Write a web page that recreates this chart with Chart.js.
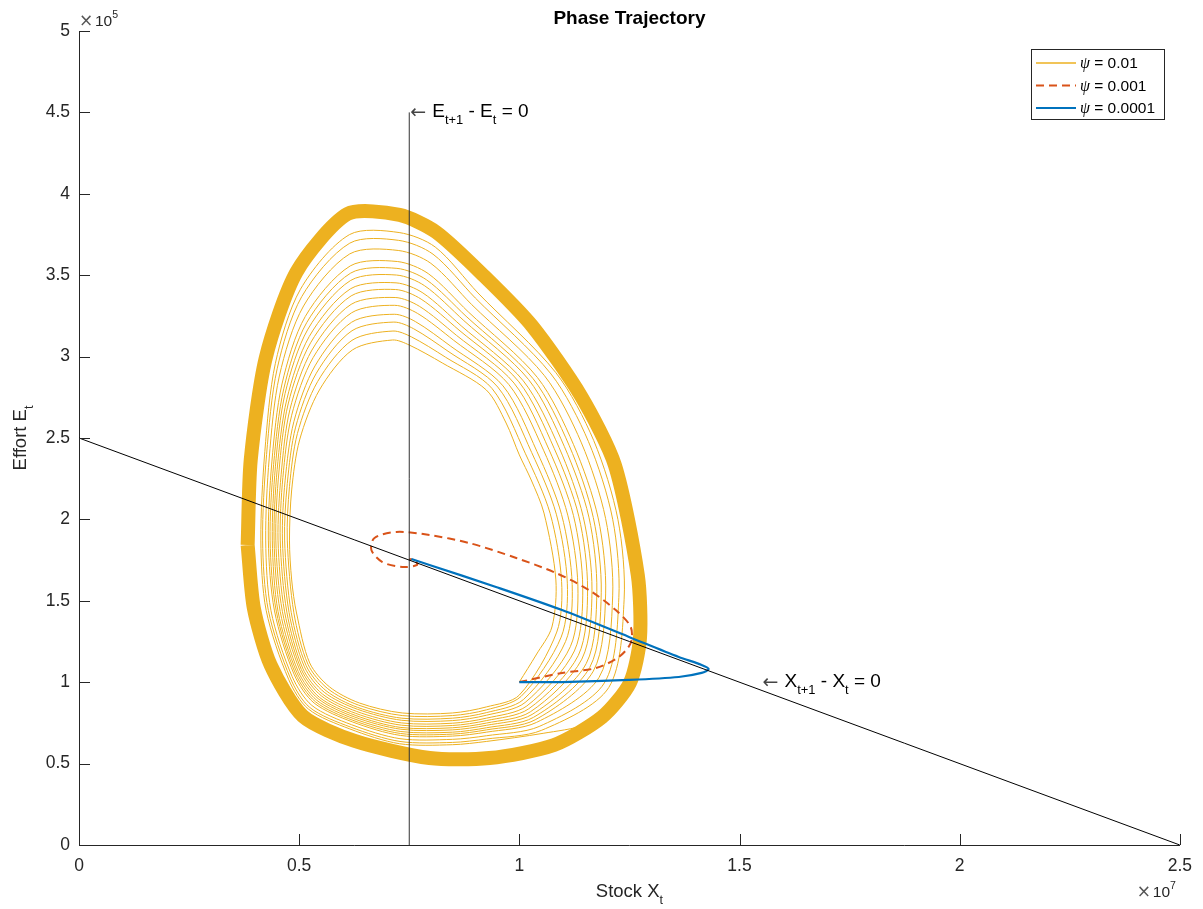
<!DOCTYPE html>
<html>
<head>
<meta charset="utf-8">
<title>Phase Trajectory</title>
<script src="https://cdn.jsdelivr.net/npm/chart.js@4.4.1/dist/chart.umd.min.js"></script>
<style>
  html, body { margin: 0; padding: 0; background: #fff; }
  canvas { display: block; }
</style>
</head>
<body>
<canvas id="phase" width="1203" height="909"></canvas>
<script>
// units as on the axes: stock in 1e7, effort in 1e5 (exponent drawn separately like matlab)
const xTickVals = [0, 0.5, 1, 1.5, 2, 2.5];
const xTickLabels = ['0', '0.5', '1', '1.5', '2', '2.5'];
const yTickVals = [0, 0.5, 1, 1.5, 2, 2.5, 3, 3.5, 4, 4.5, 5];
const yTickLabels = ['0', '0.5', '1', '1.5', '2', '2.5', '3', '3.5', '4', '4.5', '5'];
const psiValues = ['0.01', '0.001', '0.0001'];

// psi = 0.01 : spiral read loop by loop off the picture (inner loop first)
const spiralLoop1 = [[1.000,1.001],[1.038,1.167],[1.074,1.339],[1.083,1.628],[1.056,2.039],[1.027,2.242],[1.000,2.396],[0.970,2.592],[0.925,2.795],[0.825,2.961],[0.750,3.071],[0.712,3.102],[0.621,3.041],[0.546,2.795],[0.501,2.488],[0.483,2.181],[0.478,1.873],[0.483,1.628],[0.494,1.425],[0.524,1.118],[0.569,0.971],[0.637,0.872],[0.734,0.811],[0.848,0.811],[0.925,0.848],[1.000,0.921]];
const spiralLoop2 = [[1.085,1.308],[1.096,1.618],[1.070,2.036],[1.014,2.403],[0.938,2.804],[0.832,2.997],[0.755,3.121],[0.713,3.157],[0.620,3.100],[0.542,2.847],[0.496,2.527],[0.478,2.201],[0.473,1.873],[0.488,1.426],[0.520,1.110],[0.565,0.960],[0.635,0.859],[0.734,0.795],[0.848,0.795],[0.925,0.830],[1.004,0.913]];
const spiralLoop3 = [[1.095,1.277],[1.109,1.608],[1.084,2.032],[1.028,2.411],[0.951,2.813],[0.838,3.033],[0.760,3.171],[0.715,3.212],[0.620,3.159],[0.539,2.898],[0.492,2.567],[0.473,2.220],[0.467,1.873],[0.482,1.428],[0.516,1.101],[0.561,0.948],[0.633,0.845],[0.733,0.779],[0.848,0.779],[0.925,0.813],[1.009,0.893]];
const spiralLoop4 = [[1.105,1.250],[1.120,1.600],[1.096,2.029],[1.040,2.417],[0.963,2.820],[0.844,3.064],[0.764,3.215],[0.716,3.260],[0.619,3.211],[0.536,2.943],[0.488,2.601],[0.468,2.237],[0.462,1.873],[0.477,1.429],[0.512,1.094],[0.557,0.938],[0.632,0.834],[0.733,0.766],[0.848,0.764],[0.925,0.797],[1.013,0.875]];
const spiralLoop5 = [[1.116,1.219],[1.133,1.590],[1.110,2.026],[1.055,2.425],[0.976,2.829],[0.851,3.100],[0.769,3.265],[0.717,3.315],[0.619,3.269],[0.532,2.995],[0.483,2.640],[0.463,2.257],[0.457,1.873],[0.472,1.431],[0.508,1.086],[0.553,0.927],[0.630,0.821],[0.732,0.750],[0.848,0.748],[0.925,0.779],[1.017,0.854]];
const spiralLoop6 = [[1.125,1.192],[1.144,1.581],[1.123,2.023],[1.067,2.431],[0.988,2.837],[0.857,3.131],[0.773,3.309],[0.718,3.363],[0.618,3.321],[0.529,3.040],[0.479,2.675],[0.459,2.274],[0.452,1.873],[0.467,1.432],[0.505,1.078],[0.550,0.917],[0.628,0.809],[0.732,0.736],[0.848,0.734],[0.925,0.764],[1.021,0.836]];
const spiralLoop7 = [[1.134,1.165],[1.155,1.573],[1.135,2.020],[1.079,2.437],[0.999,2.845],[0.863,3.163],[0.777,3.353],[0.719,3.412],[0.618,3.373],[0.526,3.085],[0.475,2.709],[0.454,2.291],[0.447,1.873],[0.462,1.433],[0.502,1.071],[0.546,0.907],[0.627,0.797],[0.731,0.722],[0.848,0.720],[0.925,0.749],[1.025,0.818]];
const spiralLoop8 = [[1.142,1.142],[1.165,1.565],[1.145,2.017],[1.090,2.443],[1.009,2.851],[0.868,3.189],[0.781,3.391],[0.720,3.453],[0.617,3.417],[0.523,3.124],[0.472,2.738],[0.450,2.306],[0.443,1.873],[0.457,1.434],[0.498,1.065],[0.543,0.899],[0.625,0.787],[0.731,0.711],[0.848,0.707],[0.925,0.735],[1.029,0.802]];
const spiralLoop9 = [[1.152,1.115],[1.176,1.557],[1.158,2.014],[1.102,2.449],[1.021,2.859],[0.874,3.221],[0.785,3.435],[0.721,3.501],[0.617,3.468],[0.520,3.169],[0.468,2.773],[0.446,2.323],[0.439,1.873],[0.452,1.435],[0.495,1.058],[0.540,0.889],[0.624,0.776],[0.731,0.697],[0.848,0.693],[0.925,0.720],[1.032,0.784]];
const spiralLoop10 = [[1.160,1.091],[1.186,1.549],[1.168,2.011],[1.113,2.455],[1.031,2.865],[0.879,3.248],[0.789,3.472],[0.722,3.542],[0.617,3.513],[0.517,3.208],[0.465,2.802],[0.442,2.338],[0.434,1.873],[0.448,1.437],[0.492,1.051],[0.537,0.880],[0.622,0.766],[0.730,0.685],[0.848,0.681],[0.925,0.707],[1.036,0.769]];
const spiralLoop11 = [[1.168,1.068],[1.196,1.542],[1.179,2.009],[1.123,2.460],[1.041,2.872],[0.884,3.275],[0.793,3.510],[0.723,3.584],[0.616,3.557],[0.514,3.247],[0.461,2.832],[0.438,2.353],[0.430,1.873],[0.444,1.438],[0.489,1.045],[0.534,0.872],[0.621,0.756],[0.730,0.673],[0.848,0.669],[0.925,0.693],[1.039,0.753]];
const spiralLoop12 = [[1.181,1.029],[1.212,1.530],[1.196,2.005],[1.141,2.470],[1.057,2.883],[0.892,3.319],[0.799,3.573],[0.725,3.652],[0.615,3.631],[0.510,3.311],[0.455,2.881],[0.432,2.377],[0.424,1.873],[0.436,1.439],[0.484,1.035],[0.529,0.857],[0.619,0.739],[0.729,0.653],[0.848,0.649],[0.925,0.671],[1.045,0.728]];
const spiralLoop13 = [[1.193,0.995],[1.226,1.519],[1.212,2.001],[1.157,2.478],[1.072,2.893],[0.900,3.360],[0.804,3.629],[0.726,3.714],[0.615,3.697],[0.506,3.369],[0.450,2.925],[0.426,2.399],[0.417,1.873],[0.430,1.441],[0.480,1.025],[0.524,0.845],[0.617,0.724],[0.729,0.636],[0.848,0.630],[0.925,0.651],[1.050,0.704]];
const spiralLoop14 = [[1.203,0.967],[1.238,1.510],[1.224,1.998],[1.169,2.484],[1.083,2.901],[0.906,3.391],[0.809,3.673],[0.727,3.762],[0.614,3.749],[0.503,3.414],[0.446,2.959],[0.422,2.416],[0.413,1.873],[0.425,1.442],[0.476,1.018],[0.521,0.835],[0.615,0.713],[0.728,0.622],[0.848,0.616],[0.925,0.636],[1.054,0.686],[1.150,0.740],[1.215,0.860]];
// the dense outer band (many loops on top of each other)
const limitCycle = [[0.383,1.843],[0.390,2.365],[0.424,2.991],[0.494,3.520],[0.610,3.876],[0.728,3.870],[0.811,3.765],[0.920,3.495],[1.029,3.188],[1.140,2.758],[1.217,2.334],[1.269,1.658],[1.274,1.271],[1.251,0.995],[1.188,0.786],[1.079,0.614],[0.932,0.534],[0.796,0.534],[0.626,0.639],[0.508,0.792],[0.435,1.106],[0.397,1.456],[0.383,1.843]];

// psi = 0.001 (dashed) and psi = 0.0001
const psi001 = [[1.000,1.001],[1.097,1.057],[1.174,1.087],[1.226,1.155],[1.253,1.241],[1.253,1.339],[1.219,1.443],[1.158,1.566],[1.083,1.671],[0.993,1.763],[0.886,1.855],[0.796,1.904],[0.721,1.923],[0.671,1.886],[0.664,1.812],[0.689,1.738],[0.734,1.708],[0.768,1.720],[0.762,1.751],[0.750,1.757]];
const psi0001 = [[1.000,1.001],[1.097,1.001],[1.249,1.014],[1.362,1.032],[1.414,1.057],[1.430,1.081],[1.414,1.106],[1.362,1.155],[1.249,1.278],[1.097,1.443],[0.947,1.585],[0.796,1.720],[0.755,1.757]];

// nullclines
const xNullcline = [[0, 2.5], [2.5, 0]];
const eNullcline = [[0.75, 0], [0.75, 4.5]];

const SANS = "'Liberation Sans', Arial, Helvetica, sans-serif";
const INK = '#262626';
const YELLOW = '#EDB120', ORANGE = '#D95319', BLUE = '#0072BD';

const pts = arr => arr.map(([x, y]) => ({ x, y }));
const spiral = [].concat(spiralLoop1, spiralLoop2, spiralLoop3, spiralLoop4, spiralLoop5,
                         spiralLoop6, spiralLoop7, spiralLoop8, spiralLoop9, spiralLoop10,
                         spiralLoop11, spiralLoop12, spiralLoop13, spiralLoop14);

// text with TeX-like sub/superscripts, returns the width
function rich(ctx, x, y, parts, size, dry) {
    let cx = x;
    parts.forEach(([txt, kind]) => {
        let fs = size, dy = 0;
        if (kind === 'sub') { fs = size * 0.68; dy = size * 0.38; }
        if (kind === 'sup') { fs = size * 0.68; dy = -size * 0.5; }
        ctx.font = `${fs}px ${SANS}`;
        if (!dry) ctx.fillText(txt, cx, y + dy);
        cx += ctx.measureText(txt).width;
    });
    return cx - x;
}

const decorations = {
    id: 'decorations',
    afterDraw(chart) {
        const { ctx, chartArea: a, scales: { x, y } } = chart;
        ctx.save();

        // matlab style inward ticks
        ctx.strokeStyle = INK;
        ctx.lineWidth = 1;
        xTickVals.forEach(v => {
            const px = Math.round(x.getPixelForValue(v)) + 0.5;
            ctx.beginPath(); ctx.moveTo(px, a.bottom); ctx.lineTo(px, a.bottom - 11); ctx.stroke();
        });
        yTickVals.forEach(v => {
            const py = Math.round(y.getPixelForValue(v)) + 0.5;
            ctx.beginPath(); ctx.moveTo(a.left, py); ctx.lineTo(a.left + 11, py); ctx.stroke();
        });

        ctx.textBaseline = 'alphabetic';
        ctx.textAlign = 'left';

        // title
        ctx.fillStyle = '#000';
        ctx.font = `bold 19px ${SANS}`;
        ctx.textAlign = 'center';
        ctx.fillText('Phase Trajectory', (a.left + a.right) / 2, 24);
        ctx.textAlign = 'left';

        // axis labels
        ctx.fillStyle = INK;
        const xl = [['Stock X', ''], ['t', 'sub']];
        const wx = rich(ctx, 0, 0, xl, 18.5, true);
        rich(ctx, (a.left + a.right) / 2 - wx / 2, 897, xl, 18.5);

        const yl = [['Effort E', ''], ['t', 'sub']];
        const wy = rich(ctx, 0, 0, yl, 18.5, true);
        ctx.save();
        ctx.translate(26, (a.top + a.bottom) / 2);
        ctx.rotate(-Math.PI / 2);
        rich(ctx, -wy / 2, 0, yl, 18.5);
        ctx.restore();

        // exponents
        ctx.fillStyle = '#555';
        ctx.font = `17px 'DejaVu Sans', sans-serif`;
        ctx.fillText('\u00d7', a.left, 26);
        ctx.fillText('\u00d7', a.right - 43, 897);
        ctx.fillStyle = INK;
        rich(ctx, a.left + 16, 26, [['10', ''], ['5', 'sup']], 15.5);
        rich(ctx, a.right - 27, 897, [['10', ''], ['7', 'sup']], 15.5);

        // nullcline annotations
        const note = (vx, vy, sym) => {
            const px = x.getPixelForValue(vx), py = y.getPixelForValue(vy);
            ctx.fillStyle = '#444';
            ctx.font = `19px 'DejaVu Sans', sans-serif`;
            ctx.fillText('\u2190', px + 1, py + 6);
            ctx.fillStyle = '#000';
            rich(ctx, px + 23, py + 4.5,
                 [[sym, ''], ['t+1', 'sub'], [' - ' + sym, ''], ['t', 'sub'], [' = 0', '']], 19);
        };
        note(0.75, 4.5, 'E');
        note(1.55, 1.0, 'X');

        // legend box
        const lx = 1031.5, ly = 49.5, lw = 133, lh = 70;
        ctx.fillStyle = '#fff';
        ctx.fillRect(lx, ly, lw, lh);
        ctx.strokeStyle = INK;
        ctx.lineWidth = 1;
        ctx.strokeRect(lx, ly, lw, lh);
        const rows = [63, 85.5, 108];
        const styles = [
            { c: YELLOW, w: 1.5, d: [] },
            { c: ORANGE, w: 2, d: [8, 5] },
            { c: BLUE, w: 2.2, d: [] }
        ];
        rows.forEach((ry, i) => {
            const s = styles[i];
            ctx.strokeStyle = s.c; ctx.lineWidth = s.w; ctx.setLineDash(s.d);
            ctx.beginPath(); ctx.moveTo(1036, ry); ctx.lineTo(1076, ry); ctx.stroke();
            ctx.setLineDash([]);
            ctx.fillStyle = '#000';
            ctx.textBaseline = 'middle';
            ctx.font = `italic 16px 'Liberation Serif', serif`;
            ctx.fillText('\u03c8', 1080, ry + 1);
            const w = ctx.measureText('\u03c8').width;
            ctx.font = `15.5px ${SANS}`;
            ctx.fillText(' = ' + psiValues[i], 1080 + w, ry + 1);
        });

        ctx.restore();
    }
};

const lineDs = (data, color, width, extra) => Object.assign({
    data: pts(data), showLine: true, pointRadius: 0, borderColor: color,
    borderWidth: width, fill: false, tension: 0
}, extra || {});

new Chart(document.getElementById('phase'), {
    type: 'scatter',
    data: {
        datasets: [
            lineDs(spiral, YELLOW, 1, { label: '\u03c8 = 0.01', tension: 0.3, order: 5 }),
            lineDs(limitCycle, YELLOW, 14, { label: 'limit', tension: 0.25, order: 4, borderJoinStyle: 'round' }),
            lineDs(psi001, ORANGE, 2, { label: '\u03c8 = 0.001', tension: 0.3, borderDash: [8, 5], order: 3 }),
            lineDs(psi0001, BLUE, 2.2, { label: '\u03c8 = 0.0001', tension: 0.3, order: 2 }),
            lineDs(xNullcline, '#000', 1, { order: 1 }),
            lineDs(eNullcline, '#333', 1, { order: 1 })
        ]
    },
    options: {
        responsive: false,
        animation: false,
        devicePixelRatio: 1,
        events: [],
        layout: { padding: { left: 0, right: 21, top: 31, bottom: 0 } },
        plugins: { legend: { display: false }, tooltip: { enabled: false } },
        scales: {
            x: {
                type: 'linear', min: 0, max: 2.5,
                afterBuildTicks: s => { s.ticks = xTickVals.map(v => ({ value: v })); },
                afterFit: s => { s.height = 64; },
                ticks: {
                    callback: v => xTickLabels[xTickVals.indexOf(v)],
                    font: { family: SANS, size: 17.5 }, color: INK,
                    padding: 11, maxRotation: 0, autoSkip: false
                },
                grid: { display: false, drawTicks: false },
                border: { display: true, color: INK, width: 1 }
            },
            y: {
                type: 'linear', min: 0, max: 5,
                afterBuildTicks: s => { s.ticks = yTickVals.map(v => ({ value: v })); },
                afterFit: s => { s.width = 79; },
                ticks: {
                    callback: v => yTickLabels[yTickVals.indexOf(v)],
                    font: { family: SANS, size: 17.5 }, color: INK,
                    padding: 9, autoSkip: false
                },
                grid: { display: false, drawTicks: false },
                border: { display: true, color: INK, width: 1 }
            }
        }
    },
    plugins: [decorations]
});
</script>
</body>
</html>
